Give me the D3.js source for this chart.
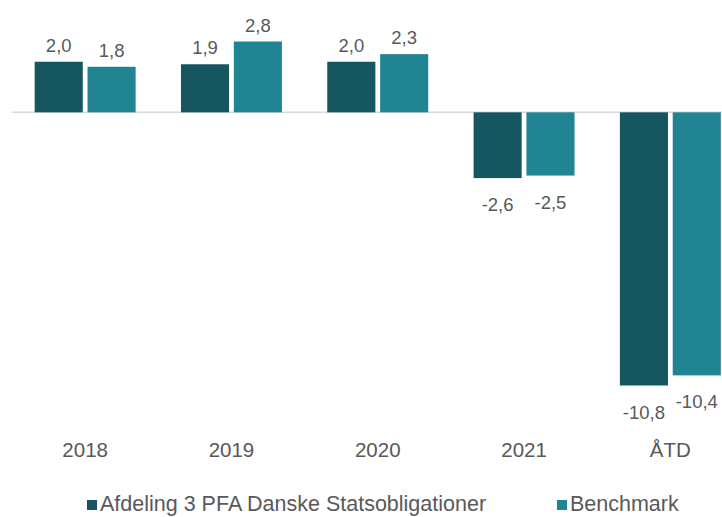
<!DOCTYPE html>
<meta charset="utf-8">
<script src="https://d3js.org/d3.v7.min.js"></script>
<style>
  body { margin: 0; background: #fff; }
  text { font-family: "Liberation Sans", Arial, sans-serif; fill: #595959; }
</style>
<div id="chart"></div>
<script>
// data
var categories = ["2018", "2019", "2020", "2021", "ÅTD"];
var seriesNames = ["Afdeling 3 PFA Danske Statsobligationer", "Benchmark"];
var fund = [2.0, 1.9, 2.0, -2.6, -10.8];
var benchmark = [1.8, 2.8, 2.3, -2.5, -10.4];
var colors = ["#165660", "#218493"];

var width = 722, height = 517;

var svg = d3.select("#chart").append("svg")
  .attr("width", width)
  .attr("height", height);

var x = d3.scaleBand()
  .domain(categories)
  .range([12, 743.5])
  .paddingInner(0.31)
  .paddingOuter(0.155);

var xs = d3.scaleBand()
  .domain([0, 1])
  .range([0, x.bandwidth()])
  .paddingInner(0.09);

var y = d3.scaleLinear()
  .domain([-10.8, 2.8])
  .range([385.5, 41.5]);

// danish decimals, plain hyphen for minus
var fmt = function(v) { return v.toFixed(1).replace(".", ","); };

var rows = [];
categories.forEach(function(c, i) {
  rows.push({cat: c, s: 0, v: fund[i]});
  rows.push({cat: c, s: 1, v: benchmark[i]});
});

// zero line
svg.append("line")
  .attr("x1", 12).attr("x2", width)
  .attr("y1", y(0)).attr("y2", y(0))
  .attr("stroke", "#d9d9d9")
  .attr("stroke-width", 1.5);

// bars
svg.append("g").selectAll("rect")
  .data(rows)
  .enter().append("rect")
    .attr("x", d => x(d.cat) + xs(d.s))
    .attr("width", xs.bandwidth())
    .attr("y", d => y(Math.max(0, d.v)))
    .attr("height", d => Math.abs(y(d.v) - y(0)))
    .attr("fill", d => colors[d.s]);

// value labels
svg.append("g").selectAll("text")
  .data(rows)
  .enter().append("text")
    .attr("x", d => x(d.cat) + xs(d.s) + xs.bandwidth() / 2)
    .attr("y", d => d.v >= 0 ? y(d.v) - 10 : y(d.v) + 33)
    .attr("text-anchor", "middle")
    .style("font-size", "18.5px")
    .text(d => fmt(d.v));

// category labels
var xAxis = svg.append("g")
  .attr("transform", "translate(0,457)")
  .call(d3.axisBottom(x).tickSize(0).tickPadding(0));
xAxis.select(".domain").remove();
xAxis.selectAll("text")
  .attr("fill", "#595959")
  .attr("dy", 0)
  .style("font-size", "20.5px")
  .style("font-family", "Liberation Sans, Arial, sans-serif");

// legend
var legendX = [87, 557];
seriesNames.forEach(function(name, i) {
  svg.append("rect")
    .attr("x", legendX[i]).attr("y", 500)
    .attr("width", 10).attr("height", 10)
    .attr("fill", colors[i]);
  svg.append("text")
    .attr("x", legendX[i] + 13).attr("y", 511)
    .style("font-size", "21.5px")
    .text(name);
});
</script>
